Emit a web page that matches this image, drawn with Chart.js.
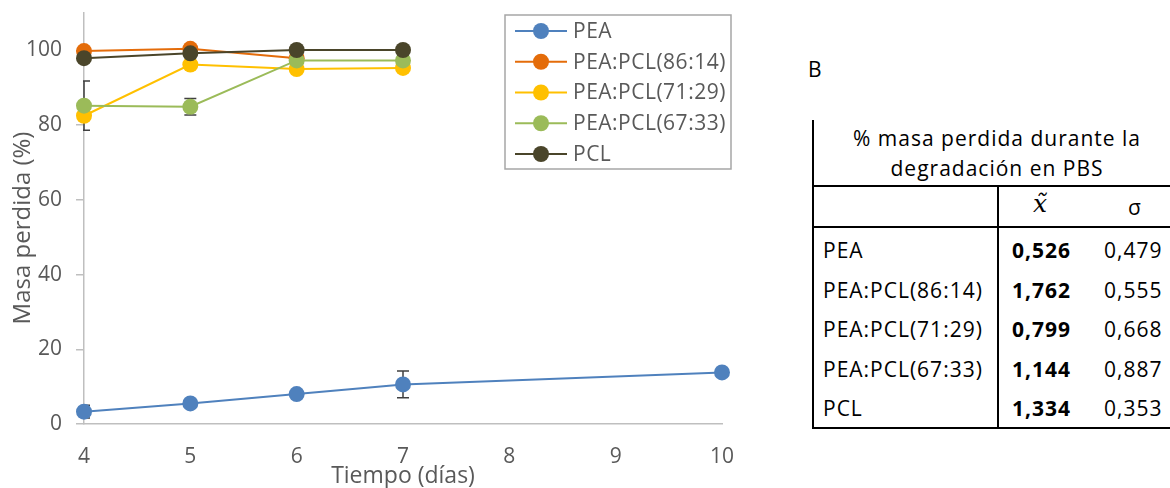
<!DOCTYPE html>
<html lang="es">
<head>
<meta charset="utf-8">
<title>Masa perdida durante la degradación en PBS</title>
<script src="https://cdn.jsdelivr.net/npm/chart.js@4.4.1/dist/chart.umd.min.js"></script>
<style>
  html, body { margin: 0; padding: 0; background: #fff; }
  body { width: 1170px; height: 488px; position: relative; overflow: hidden; font-family: 'Open Sans', sans-serif; }
  #grafico { position: absolute; left: 0; top: 0; }
  .t { position: absolute; font-size: 21px; line-height: 24px; color: #000; letter-spacing: 1px; white-space: nowrap; }
  .c { transform: translateX(-50%); }
  .b { font-weight: bold; }
  .linea { position: absolute; background: #000; }
</style>
</head>
<body>
<canvas id="grafico" width="770" height="488"></canvas>
<div id="tabla"></div>
<script>
// Días de muestreo
const dias = [4, 5, 6, 7, 10];

// % de masa perdida de cada material
const masaPEA = [3.3, 5.5, 8.0, 10.6, 13.8];
const masa8614 = [99.8, 100.4, 97.9];
const masa7129 = [82.5, 96.2, 95.0, 95.3];
const masa6733 = [85.2, 84.9, 97.3, 97.3];
const masaPCL = [97.9, 99.2, 100.1, 100.1];

// Barras de error (null = sin barra)
const errPEA = [1.7, null, null, 3.6, null];
const err6733 = [6.6, 2.2, null, null];

const series = ['PEA', 'PEA:PCL(86:14)', 'PEA:PCL(71:29)', 'PEA:PCL(67:33)', 'PCL'];
const colores = ['#4F81BD', '#E46C0A', '#FFC000', '#9BBB59', '#4A452A'];

const ticksY = [0, 20, 40, 60, 80, 100];

// Tabla B: mediana y desviación
const medianas = ['0,526', '1,762', '0,799', '1,144', '1,334'];
const sigmas = ['0,479', '0,555', '0,668', '0,887', '0,353'];

const GRIS = '#595959';
const EJE = '#BFBFBF';

Chart.defaults.font.family = "'Open Sans', sans-serif";
Chart.defaults.color = GRIS;

const valores = [masaPEA, masa8614, masa7129, masa6733, masaPCL];
const errores = [errPEA, [], [], err6733, []];

const datasets = series.map((nombre, i) => ({
    label: nombre,
    data: valores[i].map((v, j) => ({ x: dias[j], y: v })),
    errores: errores[i],
    borderColor: colores[i],
    backgroundColor: colores[i],
    borderWidth: 2,
    pointRadius: 8,
    pointHoverRadius: 8,
    pointBorderWidth: 0,
    tension: 0,
    clip: false,
    // la última serie queda encima
    order: series.length - i
}));

/**
 * Barras de error, dibujadas debajo de los marcadores
 */
const barrasError = {
    id: 'barrasError',
    beforeDatasetsDraw(chart) {
        const { ctx, chartArea, scales: { x, y } } = chart;
        ctx.save();
        ctx.beginPath();
        ctx.rect(chartArea.left - 1, chartArea.top, chartArea.width + 2, chartArea.height);
        ctx.clip();
        ctx.strokeStyle = '#404040';
        ctx.lineWidth = 1.5;
        chart.data.datasets.forEach(ds => {
            (ds.errores || []).forEach((e, j) => {
                if (e == null) return;
                const p = ds.data[j];
                const px = x.getPixelForValue(p.x);
                const arriba = y.getPixelForValue(p.y + e);
                const abajo = y.getPixelForValue(p.y - e);
                ctx.beginPath();
                ctx.moveTo(px, arriba); ctx.lineTo(px, abajo);
                ctx.moveTo(px - 6, arriba); ctx.lineTo(px + 6, arriba);
                ctx.moveTo(px - 6, abajo); ctx.lineTo(px + 6, abajo);
                ctx.stroke();
            });
        });
        ctx.restore();
    }
};

/**
 * Títulos de los ejes y leyenda en recuadro
 */
const titulosYLeyenda = {
    id: 'titulosYLeyenda',
    afterDraw(chart) {
        const { ctx, chartArea } = chart;
        ctx.save();

        // títulos
        ctx.fillStyle = GRIS;
        ctx.textAlign = 'center';
        ctx.textBaseline = 'middle';
        ctx.font = "23px 'Open Sans', sans-serif";
        ctx.fillText('Tiempo (días)', (chartArea.left + chartArea.right) / 2, 476);
        ctx.save();
        ctx.translate(23, 228);
        ctx.rotate(-Math.PI / 2);
        ctx.font = "24px 'Open Sans', sans-serif";
        ctx.fillText('Masa perdida (%)', 0, 0);
        ctx.restore();

        // leyenda
        const caja = { x: 505, y: 15, w: 226, h: 154 };
        ctx.fillStyle = '#fff';
        ctx.fillRect(caja.x, caja.y, caja.w, caja.h);
        ctx.strokeStyle = '#A6A6A6';
        ctx.lineWidth = 1.5;
        ctx.strokeRect(caja.x, caja.y, caja.w, caja.h);
        ctx.font = "21px 'Open Sans', sans-serif";
        ctx.letterSpacing = '0.5px';
        ctx.textAlign = 'left';
        chart.data.datasets.forEach((ds, i) => {
            const cy = 31 + i * 30.75;
            ctx.strokeStyle = ds.borderColor;
            ctx.lineWidth = 2;
            ctx.beginPath();
            ctx.moveTo(515, cy);
            ctx.lineTo(567, cy);
            ctx.stroke();
            ctx.fillStyle = ds.backgroundColor;
            ctx.beginPath();
            ctx.arc(541, cy, 8, 0, Math.PI * 2);
            ctx.fill();
            ctx.fillStyle = GRIS;
            ctx.fillText(ds.label, 573, cy + 1);
        });
        ctx.restore();
    }
};

new Chart(document.getElementById('grafico'), {
    type: 'line',
    data: { datasets },
    plugins: [barrasError, titulosYLeyenda],
    options: {
        responsive: false,
        animation: false,
        events: [],
        devicePixelRatio: 1,
        layout: { padding: { left: 6, top: 13, right: 48, bottom: 0 } },
        plugins: {
            legend: { display: false },
            tooltip: { enabled: false }
        },
        scales: {
            x: {
                type: 'linear',
                min: 4,
                max: 10,
                ticks: { stepSize: 1, font: { size: 21 }, color: GRIS, padding: 20 },
                grid: { display: false, drawTicks: false },
                border: { display: true, color: EJE, width: 1.5 },
                afterFit: s => { s.height = 64; }
            },
            y: {
                min: 0,
                max: 110,
                bounds: 'data',
                afterBuildTicks: s => { s.ticks = ticksY.map(v => ({ value: v })); },
                ticks: { font: { size: 21 }, color: GRIS, padding: 14 },
                grid: {
                    drawOnChartArea: false,
                    drawTicks: true,
                    tickLength: 8,
                    color: EJE,
                    lineWidth: 1.5
                },
                border: { display: true, color: EJE, width: 1.5 },
                afterFit: s => { s.width = 78; s.paddingTop = 0; s.paddingBottom = 0; }
            }
        }
    }
});

/**
 * Tabla B (texto y líneas en HTML)
 */
function texto(contenido, left, cy, clases) {
    const el = document.createElement('div');
    el.className = 't ' + (clases || '');
    el.style.left = left + 'px';
    el.style.top = (cy - 12) + 'px';
    el.innerHTML = contenido;
    document.getElementById('tabla').appendChild(el);
    return el;
}

function linea(left, top, w, h) {
    const el = document.createElement('div');
    el.className = 'linea';
    Object.assign(el.style, { left: left + 'px', top: top + 'px', width: w + 'px', height: h + 'px' });
    document.getElementById('tabla').appendChild(el);
}

function dibujarTabla() {
    texto('B', 808, 69, '');
    texto('% masa perdida durante la', 997, 138, 'c');
    texto('degradación en PBS', 997, 168, 'c');
    const mediana = texto('x&#771;', 1040, 204, 'c');
    Object.assign(mediana.style, { fontFamily: "'DejaVu Serif', serif", fontStyle: 'italic', fontSize: '25px', letterSpacing: '0' });
    texto('σ', 1135, 207, 'c');
    series.forEach((nombre, i) => {
        const cy = 250 + i * 39.6;
        texto(nombre, 823, cy, '');
        texto(medianas[i], 1012, cy, 'b');
        texto(sigmas[i], 1104, cy, '');
    });
    // bordes
    linea(812, 120, 2, 309);
    linea(812, 185, 358, 2);
    linea(812, 226, 358, 2);
    linea(812, 427, 358, 2);
    linea(997, 185, 2, 243);
}

dibujarTabla();
</script>
</body>
</html>
